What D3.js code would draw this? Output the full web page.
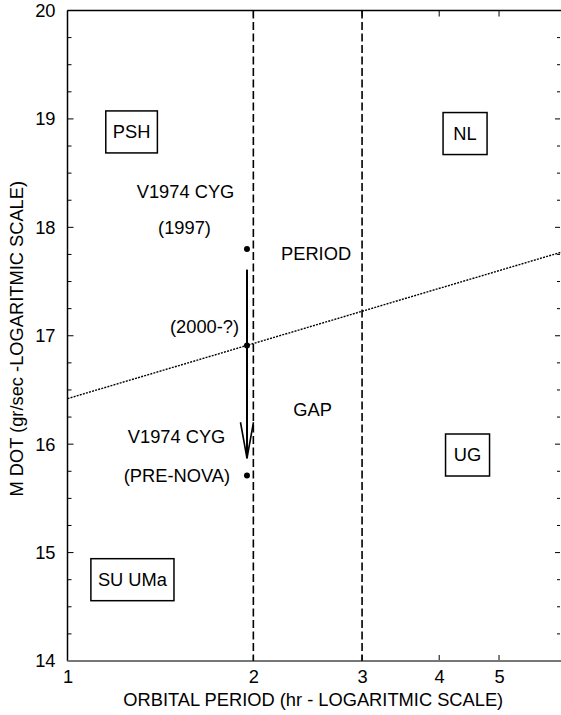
<!DOCTYPE html>
<html><head><meta charset="utf-8">
<script src="https://cdn.jsdelivr.net/npm/d3@7"></script>
<style>body{margin:0;background:#fff}svg{display:block}text{font-family:"Liberation Sans",Arial,sans-serif;fill:#000}</style>
</head><body><svg id="c" width="561" height="715"></svg>
<script>
// ---- data ----
const xDomain = [1, 6.3];
const yDomain = [14, 20];
const xTicks = [1, 2, 3, 4, 5];
const yTicks = [14, 15, 16, 17, 18, 19, 20];
const gapBounds = [2, 3];                 // period gap edges (hr)
const trendPeriod = [1, 6.3];
const trendMdot = [16.42, 17.77];
const novaPeriod = 1.953;
const novaMdot = [17.8, 16.91, 15.71];    // 1997, 2000-?, pre-nova
const arrowMdot = [17.61, 15.87];
const labelText = ["V1974 CYG", "(1997)", "(2000-?)", "PERIOD", "GAP", "V1974 CYG", "(PRE-NOVA)"];
const labelPeriod = [1.553, 1.547, 1.667, 2.527, 2.494, 1.502, 1.504];
const labelMdot = [18.33, 18.0, 17.08, 17.76, 16.32, 16.07, 15.71];
const boxText = ["PSH", "NL", "UG", "SU UMa"];
const boxPeriod = [1.27, 4.405, 4.446, 1.274];
const boxMdot = [18.88, 18.865, 15.90, 14.75];
const xTitle = "ORBITAL PERIOD (hr - LOGARITMIC SCALE)";
const yTitle = "M DOT (gr/sec -LOGARITMIC SCALE)";

// ---- chart ----
const svg = d3.select("#c");
const L = 67.5, R = 561, T = 10.5, B = 661;
const x = d3.scaleLog().domain(xDomain).range([L, R]);
const y = d3.scaleLinear().domain(yDomain).range([B, T]);
const fs = 18.3;

// minor y ticks (quarters)
const yMinor = d3.range(yDomain[0], yDomain[1] + 0.001, 0.25);

// left axis
const gl = svg.append("g").attr("transform", `translate(${L},0)`)
  .call(d3.axisLeft(y).tickValues(yTicks).tickFormat(d3.format("d")).tickSize(0).tickPadding(12));
gl.select(".domain").remove();
gl.selectAll("text").style("font-size", fs + "px").style("font-family", '"Liberation Sans",Arial,sans-serif');
svg.append("g").selectAll("line").data(yMinor).join("line")
  .attr("x1", L).attr("x2", d => L + (Number.isInteger(d) ? 6 : 4))
  .attr("y1", d => y(d)).attr("y2", d => y(d)).attr("stroke", "#000").attr("stroke-width", 1);
// right ticks
svg.append("g").selectAll("line").data(yMinor).join("line")
  .attr("x1", R - 1).attr("x2", d => R - 1 - (Number.isInteger(d) ? 5 : 3))
  .attr("y1", d => y(d)).attr("y2", d => y(d)).attr("stroke", "#000").attr("stroke-width", 1);

// bottom axis
const gb = svg.append("g").attr("transform", `translate(0,${B})`)
  .call(d3.axisBottom(x).tickValues(xTicks).tickFormat(d3.format("d")).tickSize(0).tickPadding(9));
gb.select(".domain").remove();
gb.selectAll("text").style("font-size", fs + "px").style("font-family", '"Liberation Sans",Arial,sans-serif');
const xt = xTicks.filter(d => d > 1);
svg.append("g").selectAll("line").data(xt).join("line")
  .attr("x1", d => x(d)).attr("x2", d => x(d)).attr("y1", B).attr("y2", B - 6)
  .attr("stroke", "#000").attr("stroke-width", 1);
svg.append("g").selectAll("line").data(xt).join("line")
  .attr("x1", d => x(d)).attr("x2", d => x(d)).attr("y1", T).attr("y2", T + 6)
  .attr("stroke", "#000").attr("stroke-width", 1);

// frame lines
svg.append("line").attr("x1", L).attr("x2", R).attr("y1", T).attr("y2", T).attr("stroke", "#000").attr("stroke-width", 1.3);
svg.append("line").attr("x1", L).attr("x2", L).attr("y1", T).attr("y2", B).attr("stroke", "#000").attr("stroke-width", 1.5);
svg.append("line").attr("x1", L).attr("x2", R).attr("y1", B).attr("y2", B).attr("stroke", "#777").attr("stroke-width", 2);

// gap lines
svg.append("g").selectAll("line").data(gapBounds).join("line")
  .attr("x1", d => x(d)).attr("x2", d => x(d)).attr("y1", T).attr("y2", B)
  .attr("stroke", "#000").attr("stroke-width", 1.6).attr("stroke-dasharray", "8,3.5");

// trend line
svg.append("path")
  .attr("d", d3.line().x(d => x(d[0])).y(d => y(d[1]))(trendPeriod.map((p, i) => [p, trendMdot[i]])))
  .attr("stroke", "#000").attr("stroke-width", 1.4).attr("fill", "none").attr("stroke-dasharray", "2,1.2");

// arrow
const ax = x(novaPeriod), ay0 = y(arrowMdot[0]), ay1 = y(arrowMdot[1]);
svg.append("line").attr("x1", ax).attr("x2", ax).attr("y1", ay0).attr("y2", ay1)
  .attr("stroke", "#000").attr("stroke-width", 2);
svg.append("path")
  .attr("d", `M${ax - 6.5},${ay1 - 36}L${ax},${ay1}L${ax + 6.5},${ay1 - 36}`)
  .attr("stroke", "#000").attr("stroke-width", 1.6).attr("fill", "none");

// points
svg.append("g").selectAll("circle").data(novaMdot).join("circle")
  .attr("cx", ax).attr("cy", d => y(d)).attr("r", 3).attr("fill", "#000");

// labels
svg.append("g").selectAll("text").data(labelText).join("text")
  .attr("x", (d, i) => x(labelPeriod[i])).attr("y", (d, i) => y(labelMdot[i]))
  .attr("dy", "0.35em").attr("text-anchor", "middle").style("font-size", fs + "px").text(d => d);

// boxes
const bg = svg.append("g").selectAll("g").data(boxText).join("g")
  .attr("transform", (d, i) => `translate(${x(boxPeriod[i])},${y(boxMdot[i])})`);
bg.append("text").attr("dy", "0.35em").attr("text-anchor", "middle").style("font-size", fs + "px").text(d => d);
bg.each(function () {
  const g = d3.select(this);
  const w = Math.max(44, g.select("text").node().getComputedTextLength() + 14);
  g.insert("rect", "text").attr("x", -w / 2).attr("y", -21).attr("width", w).attr("height", 42)
    .attr("fill", "none").attr("stroke", "#000").attr("stroke-width", 1.5);
});

// titles
svg.append("text").attr("x", (L + R) / 2 - 1).attr("y", 700).attr("dy", "0.35em")
  .attr("text-anchor", "middle").style("font-size", fs + "px").text(xTitle);
svg.append("text").attr("transform", `translate(17,${(T + B) / 2 + 3}) rotate(-90)`).attr("dy", "0.35em")
  .attr("text-anchor", "middle").style("font-size", fs + "px").text(yTitle);
</script></body></html>
